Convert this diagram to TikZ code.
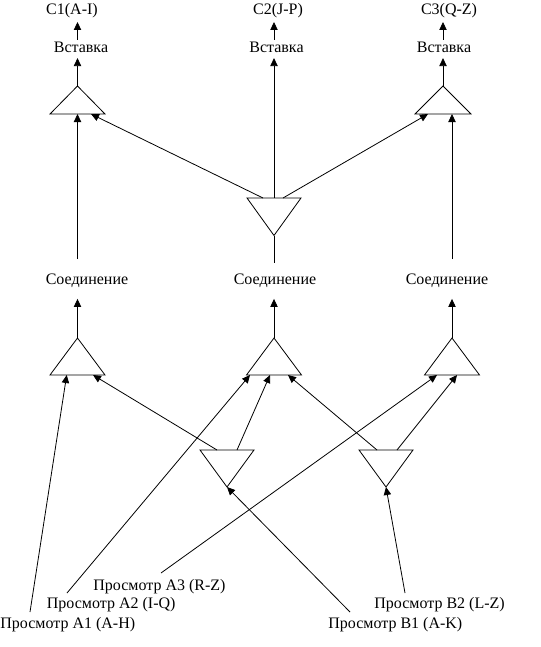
\documentclass[tikz,border=0pt]{standalone}
\usepackage{fontspec}
\setmainfont{Liberation Serif}
\usetikzlibrary{arrows.meta,calc}
\begin{document}
\begin{tikzpicture}[x=0.75pt,y=-0.75pt,line width=0.6pt,
  lbl/.style={font=\fontsize{12}{14}\selectfont,inner sep=0pt},
  arr/.style={-{Triangle[length=6pt,width=5.5pt]}},
  tri/.style={draw,line width=0.6pt,line join=miter}]
\useasboundingbox (0,0) rectangle (541,647);
% ---------- text nodes
\node[lbl] (c1) at (72,11) {C1(A-I)};
\node[lbl] (c2) at (278,11) {C2(J-P)};
\node[lbl] (c3) at (449,11) {C3(Q-Z)};
\node[lbl] (i1) at (81,47) {Вставка};
\node[lbl] (i2) at (276.5,47) {Вставка};
\node[lbl] (i3) at (444,47) {Вставка};
\node[lbl] (j1) at (87,281) {Соединение};
\node[lbl] (j2) at (275,281) {Соединение};
\node[lbl] (j3) at (447,281) {Соединение};
\node[lbl,anchor=west] (a3) at (93,586.5) {Просмотр А3 (R-Z)};
\node[lbl,anchor=west] (a2) at (46.5,605) {Просмотр А2 (I-Q)};
\node[lbl,anchor=west] (a1) at (0,624.5) {Просмотр А1 (A-H)};
\node[lbl,anchor=west] (b2) at (374,605) {Просмотр В2 (L-Z)};
\node[lbl,anchor=west] (b1) at (328,624.5) {Просмотр В1 (A-K)};
% ---------- triangle key points
% top triangles (pointing up)
\coordinate (t1) at (77.5,86);  \coordinate (t1b) at (77.5,114);
\coordinate (t3) at (443,86);   \coordinate (t3b) at (443,114);
\draw[tri] (t1) -- ($(t1b)+(-27.5,0)$) -- ($(t1b)+(27.5,0)$) -- cycle;
\draw[tri] (t3) -- ($(t3b)+(-28,0)$) -- ($(t3b)+(28,0)$) -- cycle;
% centre inverted triangle
\coordinate (v0) at (274,198);  \coordinate (v0a) at (274,235.5);
\draw[tri] (v0a) -- ($(v0)+(-27,0)$) -- ($(v0)+(27,0)$) -- cycle;
% middle triangles (pointing up)
\coordinate (m1) at (77.5,338); \coordinate (m1b) at (77.5,375);
\coordinate (m2) at (274,338);  \coordinate (m2b) at (274,375);
\coordinate (m3) at (452,338);  \coordinate (m3b) at (452,375);
\foreach \m in {m1,m2,m3}
  \draw[tri] (\m) -- ($(\m b)+(-27.5,0)$) -- ($(\m b)+(27.5,0)$) -- cycle;
% lower inverted triangles
\coordinate (l1) at (227,450); \coordinate (l1a) at (227,487);
\coordinate (l2) at (386,450); \coordinate (l2a) at (386,487);
\foreach \l in {l1,l2}
  \draw[tri] (\l a) -- ($(\l)+(-27,0)$) -- ($(\l)+(27,0)$) -- cycle;
% free ends at labels
\coordinate (a1e) at (30,612);
\coordinate (a2e) at (67,593);
\coordinate (a3e) at (161,573);
\coordinate (b1e) at (350,612);
\coordinate (b2e) at (405,593);
% ---------- connectors, top
\draw[arr,shorten >=2.5pt,shorten <=1pt] (i1.north -| t1) -- (c1.south -| t1);
\draw[arr,shorten >=2.5pt,shorten <=1pt] (i2.north -| v0) -- (c2.south -| v0);
\draw[arr,shorten >=2.5pt,shorten <=1pt] (i3.north -| t3) -- (c3.south -| t3);
\draw[arr,shorten >=4pt] (t1) -- (i1.south -| t1);
\draw[arr,shorten >=4pt] (v0) -- (i2.south -| v0);
\draw[arr,shorten >=4pt] (t3) -- (i3.south -| t3);
% joins to top triangles
\draw[arr,shorten <=11pt] (j1.north -| t1) -- (t1b);
\draw (j2.north -| v0a) ++(0,-11) -- (v0a);
\draw[arr,shorten <=11pt] (j3.north -| m3) -- (t3b -| m3);
\draw[arr] ($(v0)+(-11,0)$) -- ($(t1b)+(13.5,0)$);
\draw[arr] ($(v0)+(9,0)$) -- ($(t3b)+(-15,0)$);
% middle triangles to joins
\draw[arr,shorten >=8pt] (m1) -- (j1.south -| m1);
\draw[arr,shorten >=8pt] (m2) -- (m2 |- j2.south);
\draw[arr,shorten >=8pt] (m3) -- (m3 |- j3.south);
% lower level
\draw[arr] ($(l1)+(-10,0)$) -- ($(m1b)+(15.5,0)$);
\draw[arr] ($(l1)+(10,0)$) -- ($(m2b)+(-4,0)$);
\draw[arr] ($(l2)+(-9,0)$) -- ($(m2b)+(14,0)$);
\draw[arr] ($(l2)+(11,0)$) -- ($(m3b)+(5,0)$);
% from labels
\draw[arr] (a1e) -- ($(m1b)+(-10.8,0)$);
\draw[arr] (a2e) -- ($(m2b)+(-24,0)$);
\draw[arr] (a3e) -- ($(m3b)+(-15,0)$);
\draw[arr] (b1e) -- (l1a);
\draw[arr] (b2e) -- (l2a);
\end{tikzpicture}
\end{document}
